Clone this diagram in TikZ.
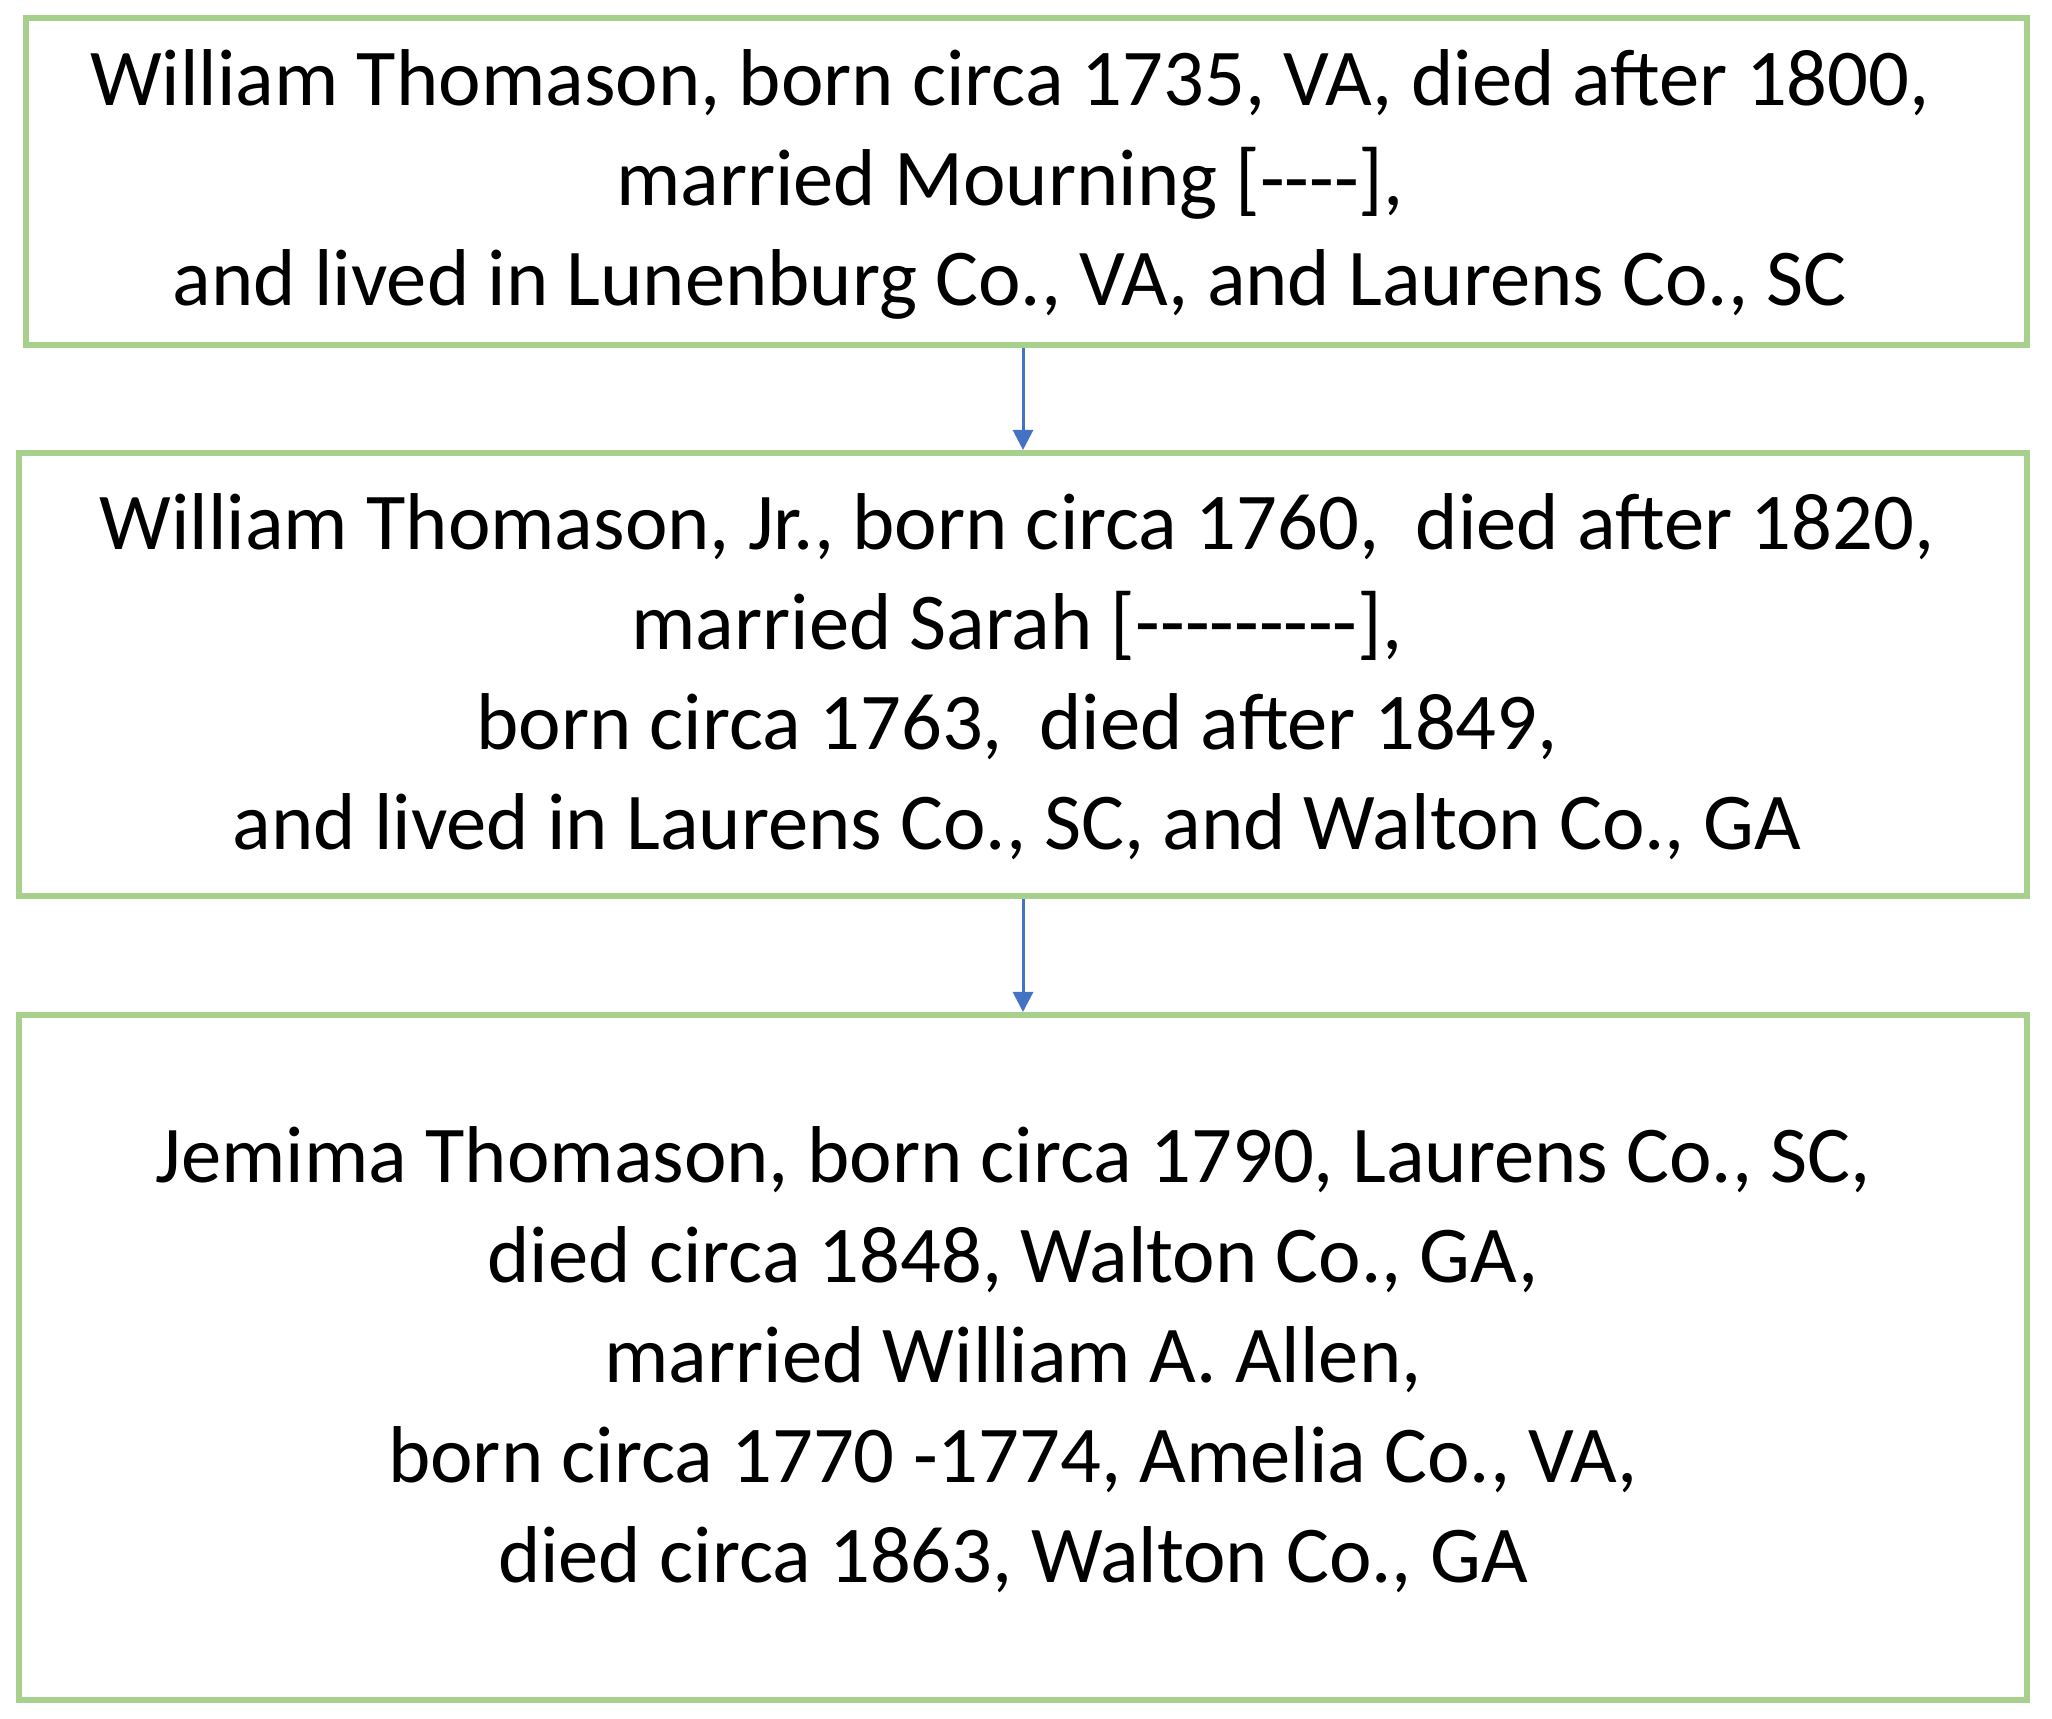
\documentclass[tikz,border=0pt]{standalone}
\usepackage{fontspec}
\setmainfont{Carlito}
\usetikzlibrary{arrows.meta}
\definecolor{boxgreen}{RGB}{168,208,141}
\definecolor{arrowblue}{RGB}{68,114,196}
\tikzset{
  famebox/.style={draw=boxgreen, line width=3pt},
  boxtext/.style={align=center, font=\fontsize{40.3}{50}\selectfont, text=black},
  descent/.style={draw=arrowblue, line width=1.5pt, -{Triangle[width=10pt,length=10pt]}}
}
\begin{document}
\begin{tikzpicture}[x=0.5pt,y=0.5pt]
\useasboundingbox (0,0) rectangle (2052,1719);
% boxes (y flipped: 1719 - pixel row)
\node[famebox, minimum width=2001*0.5pt, minimum height=327*0.5pt, inner sep=0pt] (b1) at (1026.5,1537.5) {};
\node[famebox, minimum width=2008*0.5pt, minimum height=443*0.5pt, inner sep=0pt] (b2) at (1023,1044.5) {};
\node[famebox, minimum width=2008*0.5pt, minimum height=685*0.5pt, inner sep=0pt] (b3) at (1023,361.5) {};
% texts
\node[boxtext] (t1) at (1010,1535) {William Thomason, born circa 1735, VA, died after 1800,\\married Mourning [-{}-{}-{}-],\\and lived in Lunenburg Co., VA, and Laurens Co., SC};
\node[boxtext] (t2) at (1017,1042) {William Thomason, Jr., born circa 1760,\ \ died after 1820,\\married Sarah [-{}-{}-{}-{}-{}-{}-{}-{}-],\\born circa 1763,\ \ died after 1849,\\and lived in Laurens Co., SC, and Walton Co., GA};
\node[boxtext] (t3) at (1013,359) {Jemima Thomason, born circa 1790, Laurens Co., SC,\\died circa 1848, Walton Co., GA,\\married William A. Allen,\\born circa 1770 -1774, Amelia Co., VA,\\died circa 1863, Walton Co., GA};
% connectors
\coordinate (a1) at (1023,1374);
\coordinate (a2) at (1023,1266);
\coordinate (a3) at (1023,823);
\coordinate (a4) at (1023,704);
\draw[descent] (b1.south -| a1) -- (b2.north -| a2);
\draw[descent] (b2.south -| a3) -- (b3.north -| a4);
\end{tikzpicture}
\end{document}
